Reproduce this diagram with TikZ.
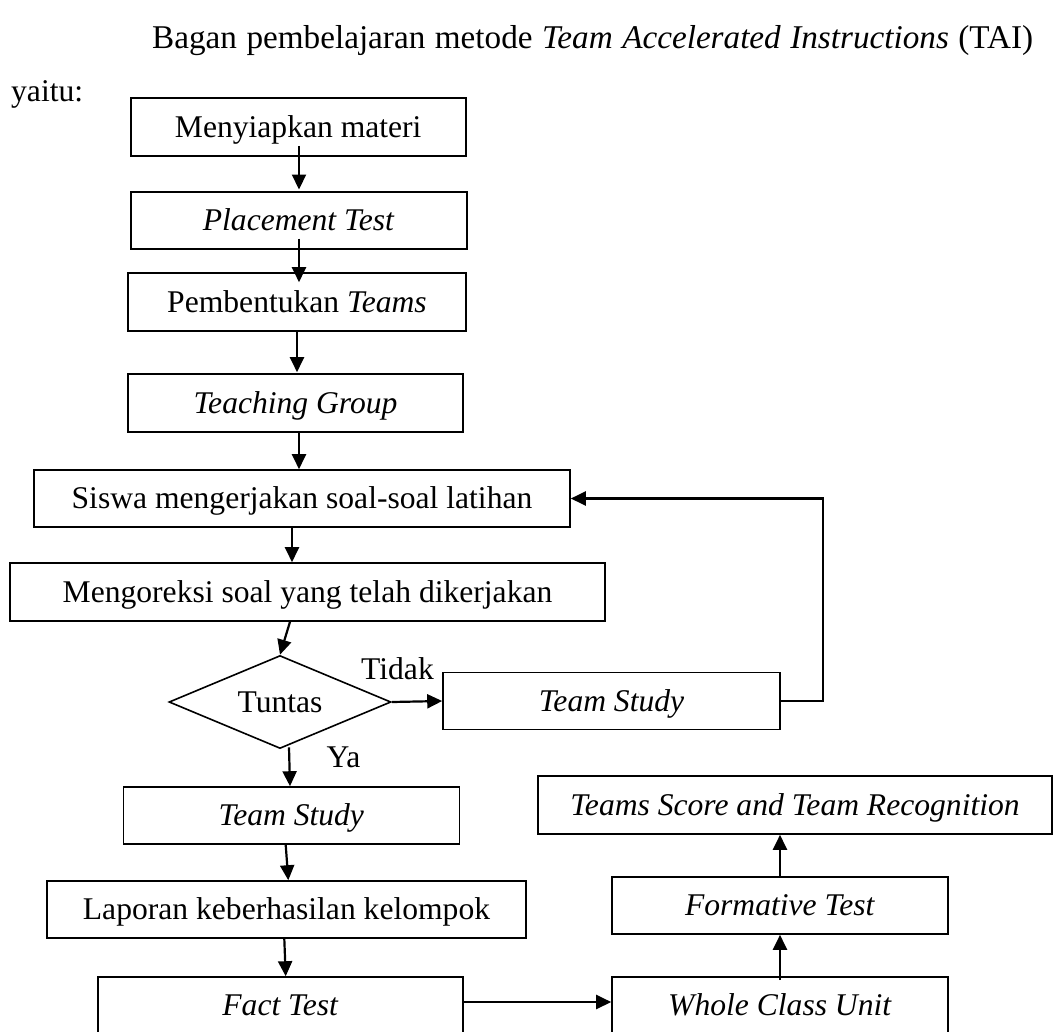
\documentclass[tikz,border=0pt]{standalone}
\usepackage{fontspec}
\setmainfont{Liberation Serif}
\usetikzlibrary{arrows.meta,shapes.geometric}
\begin{document}
\begin{tikzpicture}[x=1pt,y=-1pt,
  txt/.style={font=\fontsize{31.6pt}{38pt}\selectfont},
  box/.style={txt, draw, line width=1.6pt, inner sep=0pt, text height=20.9pt, text depth=0pt},
  arr/.style={line width=2.2pt, -{Triangle[length=15pt,width=14pt]}},
  lbl/.style={txt, inner sep=0pt, anchor=base}]
\useasboundingbox (0,0) rectangle (1054,1031);
\clip (0,0) rectangle (1054,1031);

% heading
\node[font=\fontsize{33.2pt}{40pt}\selectfont, anchor=base west, inner sep=0pt] (title) at (152,48)
  {\makebox[881pt][s]{Bagan pembelajaran metode \textit{Team Accelerated Instructions} (TAI)}};
\node[txt, anchor=base west, inner sep=0pt] (yaitu) at (11,101) {yaitu:};

% boxes
\node[box, minimum width=335pt, minimum height=58pt] (b1) at (298.2,127) {Menyiapkan materi};
\node[box, minimum width=336pt, minimum height=57pt] (b2) at (298.7,220.3) {\textit{Placement Test}};
\node[box, minimum width=338pt, minimum height=58pt] (b3) at (297,302) {Pembentukan \textit{Teams}};
\node[box, minimum width=335pt, minimum height=58pt] (b4) at (295.5,403) {\textit{Teaching Group}};
\node[box, minimum width=536pt, minimum height=57pt] (b5) at (302,498.5) {Siswa mengerjakan soal-soal latihan};
\node[box, minimum width=595pt, minimum height=58pt] (b6) at (307.5,592) {Mengoreksi soal yang telah dikerjakan};
\node[box, diamond, aspect=2.4, minimum width=222pt, minimum height=93pt] (dia) at (280,702) {Tuntas};
\node[box, minimum width=337pt, minimum height=57pt] (ts1) at (611.5,701) {\textit{Team Study}};
\node[box, minimum width=336pt, minimum height=57pt] (ts2) at (291.3,815.5) {\textit{Team Study}};
\node[box, minimum width=479pt, minimum height=57pt] (lap) at (286.5,909.5) {Laporan keberhasilan kelompok};
\node[box, minimum width=365pt, minimum height=57pt] (fact) at (280.5,1005.5) {\textit{Fact Test}};
\node[box, minimum width=336pt, minimum height=57pt] (whole) at (780,1005.5) {\textit{Whole Class Unit}};
\node[box, minimum width=336pt, minimum height=57pt] (form) at (780,905.5) {\textit{Formative Test}};
\node[box, minimum width=514pt, minimum height=58pt] (score) at (795,805) {\textit{Teams Score and Team Recognition}};

% labels
\node[lbl] (ltidak) at (397.5,679) {Tidak};
\node[lbl] (lya) at (343.5,767) {Ya};

\coordinate (fb) at (822.7,498.5);

% connectors
\draw[arr] ([xshift=0.8pt,yshift=11pt]b1.south) -- ([xshift=0.3pt,yshift=1.5pt]b2.north);
\draw[arr] ([xshift=0.3pt,yshift=11pt]b2.south) -- ([xshift=2pt,yshift=-10pt]b3.north);
\draw[arr] (b3.south) -- ([xshift=1.5pt,yshift=1pt]b4.north);
\draw[arr] ([xshift=3.5pt]b4.south) -- ([xshift=-3pt]b5.north);
\draw[arr] ([xshift=-10pt]b5.south) -- ([xshift=-15.5pt]b6.north);
\draw[arr] ([xshift=-17.5pt]b6.south) -- (dia.north);
\draw[arr] (dia.east) -- (ts1.west);
\draw[arr] ([xshift=9pt,yshift=2pt]dia.south) -- ([xshift=-1.3pt]ts2.north);
\draw[arr] ([xshift=-5.6pt]ts2.south) -- ([xshift=1.8pt]lap.north);
\draw[arr] ([xshift=-2.2pt]lap.south) -- ([xshift=5.2pt]fact.north);
\draw[arr] ([yshift=3.5pt]fact.east) -- ([yshift=3.5pt]whole.west);
\draw[arr] ([yshift=-4pt]whole.north) -- (form.south);
\draw[arr] (form.north) -- ([xshift=-15pt]score.south);
\draw[arr] (ts1.east) -| (fb) -- (b5.east);
\end{tikzpicture}
\end{document}
